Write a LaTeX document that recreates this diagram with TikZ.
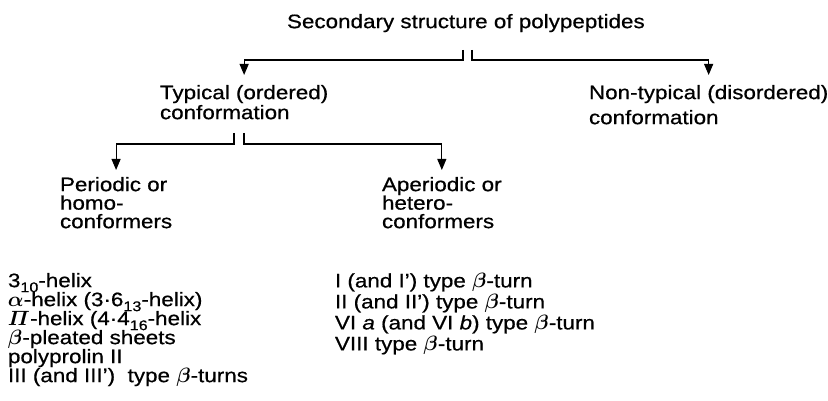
\documentclass[tikz,border=0pt]{standalone}
\usepackage{fontspec}
\setmainfont{Liberation Sans}[FakeStretch=1.15,FakeBold=0.6]
\usetikzlibrary{arrows.meta}
\newcommand{\fsz}[1]{\fontsize{19.5}{#1}\selectfont\lineskiplimit=-100pt\relax\boldmath}
\newcommand{\lowsub}[1]{\raisebox{-5pt}{\fontsize{14}{14}\selectfont #1}}
\tikzset{
  lbl/.style={anchor=north west, inner sep=0pt, outer sep=0pt, align=left, text=black},
  conn/.style={draw=black, line width=1.1pt, -{Triangle[width=9pt,length=11pt]}},
}
\begin{document}
\begin{tikzpicture}[x=1pt,y=-1pt]
\useasboundingbox (0,0) rectangle (828,401);
\node[lbl, font=\fsz{20}] (title) at (287,14) {Secondary structure of polypeptides};
\node[lbl, font=\fsz{20}] (typ) at (160,85) {Typical (ordered)\\conformation};
\node[lbl, font=\fsz{25}] (non) at (589,85) {Non-typical (disordered)\\conformation};
\node[lbl, font=\fsz{18.5}] (per) at (60,177) {Periodic or\\homo-\\conformers};
\node[lbl, font=\fsz{18.5}] (aper) at (382,177) {Aperiodic or\\hetero-\\conformers};
\node[lbl, font=\fsz{19}] (list1) at (8,273) {3\lowsub{10}-helix\\
$\alpha$-helix (3·6\lowsub{13}-helix)\\
$\mathnormal{\Pi}$-helix (4·4\lowsub{16}-helix\\
$\beta$-pleated sheets\\
polyprolin II\\
III (and III’)\ \ type $\beta$-turns};
\node[lbl, font=\fsz{21}] (list2) at (335,273) {I (and I’) type $\beta$-turn\\
II (and II’) type $\beta$-turn\\
VI \textit{a} (and VI \textit{b}) type $\beta$-turn\\
VIII type $\beta$-turn};
\coordinate (a1) at (463,50);
\coordinate (a2) at (472,50);
\coordinate (b1) at (234,133);
\coordinate (b2) at (244,133);
\draw[conn] (a1) -- ++(0,10) -| ([yshift=10pt]typ.north);
\draw[conn] (a2) -- ++(0,10) -| ([yshift=10pt]non.north);
\draw[conn] (b1) -- ++(0,11) -| ([yshift=7pt]per.north);
\draw[conn] (b2) -- ++(0,11) -| ([yshift=7pt]aper.north);
\end{tikzpicture}
\end{document}
